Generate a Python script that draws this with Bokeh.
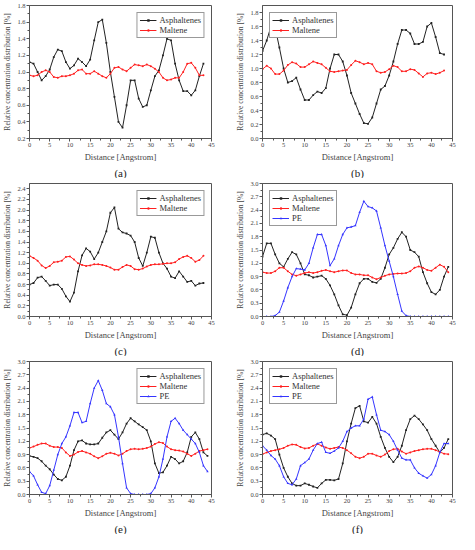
from bokeh.plotting import figure
from bokeh.layouts import gridplot
from bokeh.models import Title, SingleIntervalTicker, PrintfTickFormatter, Range1d
from bokeh.embed import file_html
from bokeh.resources import INLINE

FONT = "Liberation Serif"

x_a = list(range(0, 44))
asph_a = [1.12, 1.10, 1.00, 0.90, 0.95, 1.03, 1.18, 1.27, 1.25, 1.12, 1.04, 1.08, 1.16, 1.12, 1.07, 1.15,
          1.38, 1.60, 1.63, 1.35, 1.00, 0.70, 0.40, 0.33, 0.60, 0.90, 0.90, 0.68, 0.58, 0.60, 0.78, 0.95,
          1.02, 1.20, 1.40, 1.38, 1.10, 0.90, 0.77, 0.77, 0.72, 0.78, 0.95, 1.10]
malt_a = [0.96, 0.95, 0.96, 1.00, 1.02, 1.00, 0.94, 0.93, 0.95, 0.95, 0.96, 0.98, 1.02, 1.03, 0.98, 0.98,
          1.01, 0.98, 0.95, 0.93, 0.98, 1.05, 1.06, 1.03, 1.01, 1.05, 1.09, 1.08, 1.07, 1.09, 1.07, 1.04,
          1.00, 0.93, 0.90, 0.91, 0.93, 0.93, 1.00, 1.10, 1.11, 1.05, 0.96, 0.96]

x_b = list(range(0, 44))
asph_b = [1.25, 1.40, 1.60, 1.58, 1.30, 1.00, 0.80, 0.82, 0.87, 0.70, 0.55, 0.55, 0.62, 0.67, 0.65, 0.72,
          1.00, 1.20, 1.20, 1.10, 0.90, 0.65, 0.50, 0.35, 0.22, 0.21, 0.30, 0.50, 0.70, 0.75, 0.90, 1.10,
          1.35, 1.55, 1.55, 1.50, 1.35, 1.35, 1.38, 1.60, 1.65, 1.45, 1.22, 1.20]
malt_b = [0.99, 1.04, 1.00, 0.92, 0.92, 0.97, 1.05, 1.09, 1.07, 1.02, 1.02, 1.06, 1.10, 1.08, 1.06, 1.01,
          0.96, 0.95, 0.96, 0.97, 0.98, 1.05, 1.11, 1.09, 1.06, 1.08, 1.06, 0.96, 0.94, 0.95, 0.99, 1.04,
          1.02, 0.96, 0.96, 0.99, 0.98, 0.93, 0.88, 0.93, 0.94, 0.92, 0.94, 0.97]

x_c = list(range(0, 44))
asph_c = [0.60, 0.63, 0.73, 0.75, 0.67, 0.58, 0.60, 0.60, 0.52, 0.38, 0.28, 0.45, 0.85, 1.15, 1.28, 1.22,
          1.08, 1.20, 1.40, 1.60, 1.95, 2.05, 1.65, 1.58, 1.56, 1.52, 1.40, 1.10, 0.95, 1.20, 1.50, 1.48,
          1.20, 1.00, 0.90, 0.75, 0.72, 0.85, 0.75, 0.65, 0.67, 0.58, 0.62, 0.63]
malt_c = [1.14, 1.10, 1.05, 0.96, 0.91, 0.95, 1.02, 1.03, 1.05, 1.12, 1.13, 1.07, 1.00, 0.97, 0.95, 0.96,
          0.98, 0.98, 0.97, 0.95, 0.92, 0.88, 0.88, 0.93, 0.97, 0.95, 0.89, 0.88, 0.90, 0.94, 0.97, 0.98,
          0.98, 0.99, 1.00, 1.00, 1.02, 1.08, 1.12, 1.14, 1.10, 1.03, 1.06, 1.14]

x_d = list(range(0, 45))
asph_d = [1.35, 1.65, 1.65, 1.40, 1.20, 1.12, 1.30, 1.45, 1.40, 1.20, 0.95, 0.93, 0.88, 0.90, 0.92, 0.85,
          0.70, 0.50, 0.25, 0.05, 0.03, 0.20, 0.50, 0.75, 0.85, 0.85, 0.78, 0.76, 0.85, 1.10, 1.40, 1.55,
          1.75, 1.90, 1.80, 1.50, 1.45, 1.35, 1.00, 0.75, 0.55, 0.50, 0.60, 0.90, 1.12]
malt_d = [1.00, 0.98, 0.98, 1.02, 1.10, 1.10, 1.02, 0.95, 0.92, 0.95, 0.98, 1.00, 0.98, 1.00, 1.03, 1.05,
          1.02, 1.00, 1.02, 1.04, 1.04, 0.98, 0.95, 0.95, 0.93, 0.93, 0.88, 0.84, 0.88, 0.92, 0.95, 0.96,
          0.97, 0.97, 0.98, 1.02, 1.10, 1.13, 1.10, 1.05, 1.03, 1.10, 1.17, 1.12, 1.00]
pe_d = [0.00, 0.00, 0.00, 0.02, 0.10, 0.35, 0.65, 0.90, 1.08, 1.07, 1.05, 1.20, 1.55, 1.85, 1.85, 1.60,
        1.15, 1.30, 1.60, 1.85, 2.00, 2.02, 2.05, 2.35, 2.60, 2.48, 2.45, 2.38, 2.00, 1.60, 1.25, 0.90,
        0.50, 0.12, 0.02, 0.00, 0.00, 0.00, 0.00, 0.00, 0.00, 0.00, 0.00, 0.00, 0.00]

x_e = list(range(0, 45))
asph_e = [0.87, 0.85, 0.82, 0.75, 0.65, 0.57, 0.45, 0.35, 0.32, 0.40, 0.65, 1.00, 1.20, 1.22, 1.15, 1.13,
          1.13, 1.15, 1.28, 1.40, 1.45, 1.35, 1.25, 1.40, 1.60, 1.72, 1.65, 1.58, 1.52, 1.45, 1.20, 0.70,
          0.48, 0.50, 0.65, 0.85, 0.80, 0.70, 0.75, 0.95, 1.30, 1.40, 1.25, 0.95, 0.87]
malt_e = [1.05, 1.08, 1.12, 1.15, 1.15, 1.10, 1.07, 1.07, 1.05, 0.95, 0.87, 0.90, 0.96, 0.98, 0.95, 0.92,
          0.86, 0.82, 0.86, 0.92, 0.94, 0.92, 0.88, 0.92, 0.98, 1.02, 1.03, 1.02, 1.03, 1.05, 1.08, 1.14,
          1.18, 1.16, 1.08, 1.02, 1.00, 0.99, 0.97, 0.92, 0.87, 0.92, 0.98, 1.00, 1.02]
pe_e = [0.52, 0.42, 0.22, 0.05, 0.02, 0.20, 0.55, 0.90, 1.15, 1.30, 1.55, 1.85, 1.85, 1.62, 1.65, 2.05,
        2.40, 2.57, 2.35, 2.05, 1.98, 1.80, 1.30, 0.70, 0.15, 0.02, 0.00, 0.00, 0.00, 0.00, 0.02, 0.15,
        0.40, 0.80, 1.30, 1.65, 1.72, 1.60, 1.45, 1.35, 1.25, 1.15, 0.95, 0.65, 0.52]

x_f = list(range(0, 45))
asph_f = [1.35, 1.38, 1.33, 1.25, 0.90, 0.60, 0.40, 0.25, 0.20, 0.20, 0.25, 0.22, 0.18, 0.15, 0.25, 0.33,
          0.33, 0.32, 0.35, 0.70, 1.20, 1.60, 1.95, 2.00, 1.65, 1.62, 1.75, 1.60, 1.30, 1.05, 0.85, 0.73,
          0.85, 1.10, 1.45, 1.70, 1.78, 1.70, 1.58, 1.45, 1.25, 1.10, 0.95, 1.05, 1.25]
malt_f = [0.91, 0.95, 0.98, 1.00, 1.02, 1.05, 1.10, 1.13, 1.12, 1.07, 1.04, 1.05, 1.10, 1.14, 1.10, 1.06,
          1.03, 1.05, 1.07, 1.05, 1.00, 0.93, 0.85, 0.82, 0.85, 0.92, 0.92, 0.88, 0.85, 0.90, 0.98, 1.02,
          1.03, 0.97, 0.92, 0.95, 0.98, 1.00, 1.02, 1.03, 1.03, 1.00, 0.96, 0.92, 0.91]
pe_f = [1.10, 1.00, 0.88, 0.80, 0.65, 0.40, 0.25, 0.22, 0.35, 0.65, 0.72, 0.80, 1.00, 1.15, 1.18, 0.95,
        0.93, 0.98, 1.05, 1.20, 1.42, 1.50, 1.55, 1.55, 1.70, 2.15, 2.20, 1.80, 1.45, 1.42, 1.35, 1.20,
        1.00, 0.82, 0.78, 0.78, 0.60, 0.48, 0.42, 0.37, 0.45, 0.65, 0.95, 1.15, 1.15]

panels = [
    ("(a)", x_a, asph_a, malt_a, None, (0.2, 1.8), 0.2, "top_right"),
    ("(b)", x_b, asph_b, malt_b, None, (0.0, 1.9), 0.2, "top_left"),
    ("(c)", x_c, asph_c, malt_c, None, (0.0, 2.5), 0.2, "top_right"),
    ("(d)", x_d, asph_d, malt_d, pe_d, (0.0, 3.0), 0.3, "top_left"),
    ("(e)", x_e, asph_e, malt_e, pe_e, (0.0, 3.0), 0.3, "top_right"),
    ("(f)", x_f, asph_f, malt_f, pe_f, (0.0, 3.0), 0.3, "top_left"),
]

BLACK = "#222222"
RED = "#ff2020"
BLUE = "#3535ff"

figs = []
for i, (lab, xs, asph, malt, pe, yr, ystep, loc) in enumerate(panels):
    left_col = (i % 2 == 0)
    p = figure(width=229, height=178, output_backend="svg", toolbar_location=None,
               x_range=Range1d(0, 45), y_range=Range1d(*yr),
               min_border_left=(21 if left_col else 33),
               min_border_right=(18 if left_col else 6),
               min_border_top=5, min_border_bottom=0)
    p.background_fill_color = "white"
    p.border_fill_color = "white"
    p.outline_line_color = "#555555"
    p.xgrid.visible = False
    p.ygrid.visible = False

    p.xaxis.ticker = SingleIntervalTicker(interval=5, num_minor_ticks=2)
    p.yaxis.ticker = SingleIntervalTicker(interval=ystep, num_minor_ticks=2)
    p.yaxis.formatter = PrintfTickFormatter(format="%.1f")
    p.xaxis.axis_label = "Distance [Angstrom]"
    p.yaxis.axis_label = "Relative concentration distribution [%]"
    for ax in (p.xaxis, p.yaxis):
        ax.axis_label_text_font = FONT
        ax.axis_label_text_font_style = "normal"
        ax.axis_label_text_font_size = "8.5px"
        ax.axis_label_text_color = "#444444"
        ax.major_label_text_font = FONT
        ax.major_label_text_font_size = "6.5px"
        ax.major_label_text_color = "#444444"
        ax.axis_line_color = "#555555"
        ax.major_tick_line_color = "#555555"
        ax.minor_tick_line_color = "#555555"
        ax.major_tick_out = 3
        ax.major_tick_in = 0
        ax.minor_tick_out = 2
        ax.minor_tick_in = 0
        ax.axis_label_standoff = 2
        ax.major_label_standoff = 1
    p.yaxis.axis_label_text_font_size = "7.5px"

    p.line(xs, asph, line_color=BLACK, line_width=1, legend_label="Asphaltenes")
    p.scatter(xs, asph, marker="square", size=1.8, fill_color=BLACK, line_color=None,
              legend_label="Asphaltenes")
    p.line(xs, malt, line_color=RED, line_width=1, legend_label="Maltene")
    p.scatter(xs, malt, marker="circle", size=2.0, fill_color=RED, line_color=None,
              legend_label="Maltene")
    if pe is not None:
        p.line(xs, pe, line_color=BLUE, line_width=1, legend_label="PE")
        p.scatter(xs, pe, marker="triangle", size=2.4, fill_color=BLUE, line_color=None,
                  legend_label="PE")

    lg = p.legend[0]
    lg.location = loc
    lg.label_text_font = FONT
    lg.label_text_font_size = "8.5px"
    lg.label_text_color = "#333333"
    lg.border_line_color = "#333333"
    lg.border_line_width = 1
    lg.background_fill_alpha = 1
    lg.spacing = 0
    lg.padding = 2
    lg.margin = 7
    lg.glyph_width = 17
    lg.glyph_height = 6
    lg.label_height = 10
    lg.label_standoff = 3

    t = Title(text=lab, align="center", text_font=FONT, text_font_style="normal",
              text_font_size="11px", text_color="#222222", standoff=0, offset=0)
    p.add_layout(t, "below")
    figs.append(p)

grid = gridplot(figs, ncols=2, toolbar_location=None)

open("out.html", "w").write(file_html(grid, INLINE))
